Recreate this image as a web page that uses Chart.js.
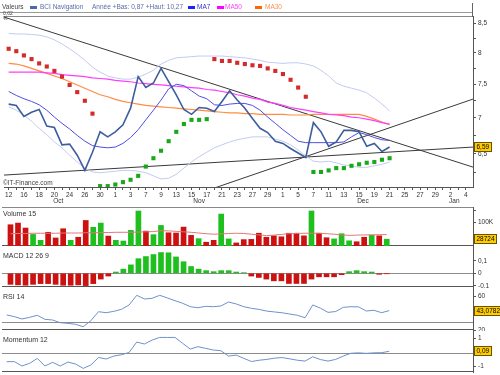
<!DOCTYPE html>
<html lang="fr">
<head>
  <meta charset="UTF-8">
  <title>BCI Navigation</title>
  <script src="https://cdn.jsdelivr.net/npm/chart.js@4"></script>
  <style>
    html, body { margin: 0; padding: 0; background: #fff; }
    #wrap { position: relative; width: 500px; height: 375px; overflow: hidden; font-family: 'Liberation Sans', Arial, sans-serif; color: #333; }
    #wrap canvas { position: absolute; left: 0; }
    .t { position: absolute; top: 3px; font-size: 6.5px; line-height: 8px; white-space: nowrap; }
    .sw { position: absolute; top: 6px; width: 7px; height: 3px; }
    .lbl { position: absolute; left: 3px; font-size: 7px; line-height: 8px; color: #333; white-space: nowrap; }
    .tiny { position: absolute; left: 3px; font-size: 5px; line-height: 5px; color: #444; }
  </style>
</head>
<body>
<div id="wrap">
  <canvas id="main" width="500" height="206" style="top:0"></canvas>
  <canvas id="vol" width="500" height="41" style="top:206px"></canvas>
  <canvas id="macd" width="500" height="42" style="top:246px"></canvas>
  <canvas id="rsi" width="500" height="44" style="top:287px"></canvas>
  <canvas id="mom" width="500" height="45" style="top:330px"></canvas>

  <!-- header / legend -->
  <div class="t" style="left:2px;color:#444">Valeurs</div>
  <div class="sw" style="left:30px;background:#4a6aa8"></div>
  <div class="t" style="left:40px;color:#5a6ea8">BCI Navigation</div>
  <div class="t" style="left:92px;color:#5a6ea8">Année +Bas: 0,87 +Haut: 10,27</div>
  <div class="sw" style="left:188px;background:#2020ff"></div>
  <div class="t" style="left:197px;color:#3030e0">MA7</div>
  <div class="sw" style="left:217px;background:#ff00ff"></div>
  <div class="t" style="left:225px;color:#ff40ff">MA50</div>
  <div class="sw" style="left:255px;background:#ff6600"></div>
  <div class="t" style="left:265px;color:#ff9050">MA30</div>
  <div style="position:absolute;left:0;top:12px;width:473px;height:1px;background:#999"></div>
  <div style="position:absolute;left:472px;top:3px;width:1px;height:14px;background:#666"></div>
  <div class="tiny" style="top:11px">0,02</div>
  <div class="tiny" style="top:16px">%</div>

  <div class="lbl" style="top:179px;font-size:6.5px;color:#444">©IT-Finance.com</div>
  <div class="lbl" style="top:210px">Volume 15</div>
  <div class="lbl" style="top:252px">MACD 12 26 9</div>
  <div class="lbl" style="top:293px">RSI 14</div>
  <div class="lbl" style="top:336px">Momentum 12</div>
</div>

<script>
  // x axis: one slot per trading day, a label every second slot
  const dayLabels = ['12','16','18','20','24','26','30','1','3','7','9','13','15','17','21','23','27','29','1','5','7','11','13','15','19','21','25','27','29','2','4'];
  const months = ['Oct', 'Nov', 'Dec', 'Jan'];
  const monthSlots = [6.5, 25, 46.5, 58.5];

  // price panel
  const close = [7.20,7.18,7.02,7.08,7.12,6.88,6.86,6.62,6.63,6.48,6.28,6.52,6.80,6.73,6.80,6.90,7.14,7.62,7.45,7.52,7.75,7.54,7.34,7.12,7.05,7.15,7.14,7.09,7.24,7.40,7.26,7.14,6.99,6.85,6.79,6.67,6.64,6.57,6.51,6.45,6.93,6.80,6.60,6.66,6.82,6.82,6.80,6.60,6.64,6.53,6.59];
  const ma7 = [7.39,7.33,7.28,7.24,7.19,7.11,7.01,6.92,6.84,6.75,6.67,6.61,6.59,6.58,6.59,6.64,6.72,6.83,6.97,7.11,7.26,7.43,7.50,7.48,7.40,7.32,7.28,7.19,7.18,7.20,7.21,7.21,7.18,7.11,7.01,6.92,6.83,6.75,6.67,6.65,6.65,6.65,6.65,6.65,6.66,6.73,6.79,6.76,6.72,6.69,6.68];
  const ma50 = [7.69,7.69,7.69,7.69,7.69,7.68,7.67,7.65,7.64,7.63,7.62,7.60,7.59,7.58,7.56,7.55,7.54,7.52,7.51,7.50,7.49,7.48,7.47,7.46,7.45,7.44,7.42,7.41,7.39,7.37,7.34,7.32,7.29,7.27,7.23,7.21,7.18,7.15,7.13,7.11,7.09,7.07,7.05,7.04,7.03,7.01,7.00,6.98,6.96,6.93,6.91];
  const ma30 = [7.83,7.82,7.79,7.75,7.71,7.67,7.63,7.59,7.54,7.49,7.44,7.39,7.34,7.31,7.27,7.24,7.22,7.20,7.18,7.17,7.16,7.15,7.14,7.13,7.12,7.11,7.10,7.09,7.08,7.07,7.07,7.06,7.06,7.05,7.05,7.05,7.05,7.04,7.04,7.04,7.05,7.05,7.05,7.05,7.05,7.05,7.05,7.02,6.98,6.94,6.90];
  const bandUp = [8.33,8.32,8.32,8.31,8.30,8.27,8.22,8.15,8.07,7.98,7.88,7.77,7.69,7.63,7.60,7.58,7.58,7.61,7.66,7.72,7.82,7.88,7.92,7.93,7.94,7.95,7.95,7.95,7.95,7.94,7.93,7.92,7.90,7.88,7.85,7.84,7.83,7.84,7.84,7.82,7.79,7.72,7.63,7.52,7.47,7.44,7.41,7.37,7.29,7.20,7.10];
  const bandLow = [7.16,7.11,7.04,6.95,6.85,6.76,6.66,6.58,6.48,6.39,6.31,6.26,6.25,6.26,6.27,6.28,6.28,6.27,6.25,6.21,6.17,6.18,6.23,6.31,6.39,6.46,6.52,6.58,6.62,6.66,6.69,6.71,6.73,6.73,6.73,6.70,6.67,6.62,6.55,6.47,6.40,6.39,6.40,6.38,6.35,6.34,6.32,6.32,6.34,6.36,6.39];
  const sar = [8.07,8.03,7.96,7.90,7.83,7.78,7.71,7.62,7.49,7.38,7.25,7.06,6.08,6.08,6.10,6.13,6.16,6.21,6.33,6.44,6.54,6.67,6.80,6.91,6.97,6.97,6.98,7.90,7.87,7.87,7.84,7.82,7.80,7.79,7.75,7.71,7.66,7.57,7.45,7.31,6.26,6.26,6.28,6.31,6.31,6.34,6.36,6.38,6.39,6.42,6.44];
  const trendA = [[-0.614, 8.615], [60.95, 6.323]];
  const trendB = [[-0.614, 6.220], [60.95, 6.590]];
  const trendC = [[26.97, 6.055], [60.95, 7.275]];
  const priceTicks = [6.25,6.5,6.75,7,7.25,7.5,7.75,8,8.25,8.5];

  // lower panels
  const volume = [90000,97000,76000,49000,24000,58000,34000,73000,24000,37000,108000,79000,97000,42000,24000,21000,66000,148000,63000,48000,87000,56000,55000,80000,45000,31000,16000,24000,135000,30000,13000,27000,28000,54000,37000,43000,39000,54000,54000,43000,148000,54000,35000,30000,52000,22000,18000,37000,46000,43000,28724];
  const volMA = [52000,53000,53000,54000,54000,54000,54000,55000,55000,55000,56000,56000,57000,57000,58000,58000,58000,59000,60000,61000,65000,64000,62000,60000,58000,55000,52000,50000,51000,53000,54000,53000,50000,47000,44000,46000,49000,52000,53000,54000,54000,54000,52000,50000,47000,45000,46000,47000,47000,48000,48000];
  const macd = [-0.088,-0.092,-0.095,-0.088,-0.082,-0.082,-0.088,-0.095,-0.095,-0.092,-0.098,-0.082,-0.046,-0.022,0.010,0.033,0.067,0.116,0.133,0.149,0.165,0.163,0.130,0.092,0.054,0.033,0.021,0.013,0.021,0.021,0.010,0.005,-0.022,-0.033,-0.046,-0.060,-0.060,-0.081,-0.081,-0.081,-0.046,-0.028,-0.028,-0.028,-0.011,0.013,0.021,0.013,0.010,-0.008,-0.003];
  const rsi = [37.9,35.9,33.1,35.1,37.5,32.7,31.9,28.7,27.9,26.8,23.9,31.1,41.8,40.6,42.2,44.6,49.8,61.3,56.9,57.7,61.3,58.1,54.9,51.8,47.7,46.5,48.2,47.7,48.6,53.3,51.0,47.7,45.8,44.5,42.5,41.5,40.5,39.0,37.5,34.6,49.8,46.0,41.0,42.0,47.0,47.7,47.5,42.6,43.5,40.6,43.0782];
  const mom = [-0.65,-0.65,-0.96,-0.77,-0.42,-0.96,-0.70,-0.96,-0.68,-0.82,-1.13,-0.89,-0.35,-0.46,-0.25,-0.16,0.01,0.75,0.61,0.89,1.08,1.08,1.08,0.66,0.25,0.42,0.30,0.18,0.13,-0.25,-0.18,-0.42,-0.64,-0.55,-0.49,-0.40,-0.36,-0.45,-0.55,-0.61,-0.30,-0.50,-0.61,-0.49,-0.25,-0.05,-0.02,-0.06,-0.02,-0.01,0.09];

  const RED = '#cc1111', GREEN = '#1fbf1f';
  const fr = v => String(v).replace('.', ',');
  const pts = arr => arr.map((v, i) => ({ x: i, y: v }));
  const seg = arr => arr.map(p => ({ x: p[0], y: p[1] }));
  const up = close.map((c, i) => i > 0 && c >= close[i - 1]);

  Chart.defaults.font.family = "'Liberation Sans', Arial, sans-serif";
  Chart.defaults.color = '#333';

  // frames, reference lines, month row and the gold value boxes
  function hline(ctx, x1, x2, y, color) {
    ctx.strokeStyle = color; ctx.beginPath(); ctx.moveTo(x1, y); ctx.lineTo(x2, y); ctx.stroke();
  }
  const deco = {
    id: 'deco',
    beforeDatasetsDraw(chart, args, o) {
      const { ctx, chartArea: a } = chart;
      ctx.save(); ctx.lineWidth = 1;
      if (o.top) hline(ctx, a.left, a.right, a.top + 0.5, '#888');
      if (o.bottom) hline(ctx, a.left, a.right, a.bottom - 0.5, '#555');
      (o.refs || []).forEach(v => hline(ctx, a.left, a.right, Math.round(chart.scales.y.getPixelForValue(v)) + 0.5, '#8c8c8c'));
      ctx.restore();
    },
    afterDraw(chart, args, o) {
      const { ctx, chartArea: a } = chart;
      ctx.save();
      ctx.font = "6.5px 'Liberation Sans', Arial, sans-serif";
      ctx.textBaseline = 'middle';
      if (o.months) {
        ctx.fillStyle = '#333'; ctx.textAlign = 'center';
        months.forEach((m, i) => ctx.fillText(m, chart.scales.x.getPixelForValue(monthSlots[i]), a.bottom + 14));
      }
      if (o.box) {
        const y = Math.round(chart.scales.y.getPixelForValue(o.box.value));
        const w = Math.round(ctx.measureText(o.box.text).width) + 5;
        const x = a.right + 1;
        ctx.fillStyle = '#ffcc00'; ctx.fillRect(x, y - 5, w, 10);
        ctx.strokeStyle = '#6b5200'; ctx.lineWidth = 1; ctx.strokeRect(x + 0.5, y - 4.5, w - 1, 9);
        ctx.fillStyle = '#000'; ctx.textAlign = 'left';
        ctx.fillText(o.box.text, x + 2.5, y + 0.5);
      }
      ctx.restore();
    }
  };

  function xScale(show) {
    return {
      type: 'linear', min: -0.614, max: 60.95, display: show,
      afterBuildTicks: s => { s.ticks = Array.from({ length: 61 }, (_, i) => ({ value: i })); },
      afterFit: s => { if (show) { s.height = 19; s.paddingLeft = 0; s.paddingRight = 0; } },
      grid: { drawOnChartArea: false, tickLength: 3, color: '#555' },
      border: { color: '#555' },
      ticks: { autoSkip: false, maxRotation: 0, padding: 1, font: { size: 6.5 },
               callback: v => v % 2 === 0 ? dayLabels[v / 2] : '' }
    };
  }
  function yScale(extra, tickVals, fmt) {
    return Object.assign({
      position: 'right', bounds: 'data',
      afterBuildTicks: s => { s.ticks = tickVals.map(v => ({ value: v })); },
      afterFit: s => { s.width = 27; s.paddingTop = 0; s.paddingBottom = 0; },
      grid: { drawOnChartArea: false, tickLength: 3, color: '#555' },
      border: { color: '#555' },
      ticks: { padding: 2, font: { size: 6.5 }, callback: fmt }
    }, extra);
  }
  function make(id, datasets, y, decoOpts, showX, pad) {
    return new Chart(document.getElementById(id), {
      type: 'line',
      data: { datasets },
      options: {
        responsive: false, animation: false, devicePixelRatio: 1, events: [],
        layout: { padding: pad },
        elements: { point: { radius: 0 }, line: { tension: 0 } },
        plugins: { legend: { display: false }, tooltip: { enabled: false }, deco: decoOpts },
        scales: { x: xScale(showX), y }
      },
      plugins: [deco]
    });
  }

  const trend = d => ({ data: seg(d), borderColor: '#3a3a3a', borderWidth: 1 });

  make('main', [
    { data: pts(close), borderColor: '#3d5d9e', borderWidth: 1.6 },
    { data: pts(sar), showLine: false, pointStyle: 'rect', pointRadius: 2.9, pointBorderWidth: 0,
      pointBackgroundColor: sar.map((v, i) => v > close[i] ? '#d42a2a' : '#1aa81a') },
    { data: pts(ma7), borderColor: '#4d4de6', borderWidth: 1 },
    { data: pts(ma50), borderColor: '#ff3cff', borderWidth: 1.2 },
    { data: pts(ma30), borderColor: '#ff8c40', borderWidth: 1.2 },
    { data: pts(bandUp), borderColor: '#c3cbef', borderWidth: 1 },
    { data: pts(bandLow), borderColor: '#c3cbef', borderWidth: 1 },
    trend(trendA), trend(trendB), trend(trendC)
  ], yScale({ type: 'logarithmic', min: 6.069, max: 8.634 }, priceTicks,
            v => (v * 2) % 1 === 0 ? fr(v) : ''),
  { top: true, months: true, box: { value: close[close.length - 1], text: fr(close[close.length - 1]) } },
  true, { top: 16, left: 2, right: 0, bottom: 0 });

  make('vol', [
    { data: pts(volMA), borderColor: '#e07878', borderWidth: 1 },
    { type: 'bar', data: pts(volume), barThickness: 5, borderWidth: 0,
      backgroundColor: up.map(u => u ? GREEN : RED) }
  ], yScale({ min: 0, max: 165000 }, [50000, 100000, 150000], v => v % 100000 === 0 ? v / 1000 + 'K' : ''),
  { top: true, bottom: true, box: { value: volume[volume.length - 1], text: String(volume[volume.length - 1]) } },
  false, { top: 1, left: 2, right: 0, bottom: 1 });

  make('macd', [
    { type: 'bar', data: pts(macd), barThickness: 5, borderWidth: 0,
      backgroundColor: macd.map(v => v >= 0 ? GREEN : RED) }
  ], yScale({ min: -0.109, max: 0.209 }, [-0.1, 0, 0.1], v => fr(v)),
  { bottom: true, refs: [0] }, false, { top: 1, left: 2, right: 0, bottom: 1 });

  make('rsi', [
    { data: pts(rsi), borderColor: '#7090cc', borderWidth: 1 }
  ], yScale({ min: 20, max: 70 }, [20, 30, 40, 50, 60], v => v % 20 === 0 ? String(v) : ''),
  { bottom: true, refs: [30], box: { value: rsi[rsi.length - 1], text: fr(rsi[rsi.length - 1]) } },
  false, { top: 1, left: 2, right: 0, bottom: 1 });

  make('mom', [
    { data: pts(mom), borderColor: '#7090cc', borderWidth: 1 }
  ], yScale({ min: -1.39, max: 1.54 }, [-1, 0, 1], v => fr(v)),
  { bottom: true, refs: [0], box: { value: mom[mom.length - 1], text: fr(mom[mom.length - 1]) } },
  false, { top: 1, left: 2, right: 0, bottom: 3 });
</script>
</body>
</html>
